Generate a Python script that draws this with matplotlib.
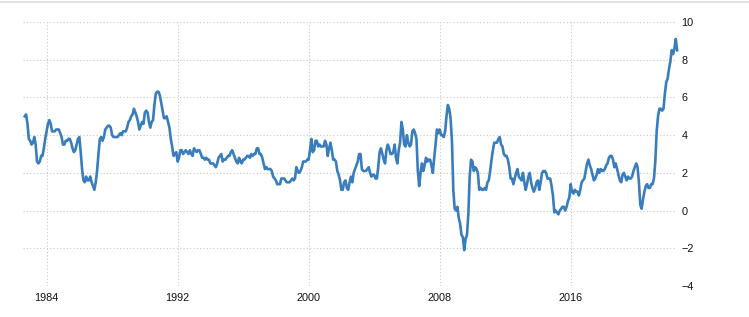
import numpy as np
import matplotlib.pyplot as plt
from matplotlib.lines import Line2D

# monthly inflation rate (%), Sep 1982 .. Jul 2022
start_year, start_month = 1982, 9
rate = [
    5.0, 5.1, 4.6, 3.8,
    3.7, 3.5, 3.6, 3.9, 3.5, 2.6, 2.5, 2.6, 2.9, 2.9, 3.3, 3.8,  # 1983
    4.2, 4.6, 4.8, 4.6, 4.2, 4.2, 4.2, 4.3, 4.3, 4.3, 4.1, 3.9,  # 1984
    3.5, 3.5, 3.7, 3.7, 3.8, 3.8, 3.6, 3.3, 3.1, 3.2, 3.5, 3.8,  # 1985
    3.9, 3.1, 2.2, 1.6, 1.5, 1.8, 1.6, 1.6, 1.8, 1.5, 1.3, 1.1,  # 1986
    1.5, 2.1, 3.0, 3.8, 3.9, 3.7, 3.9, 4.3, 4.4, 4.5, 4.5, 4.4,  # 1987
    4.0, 3.9, 3.9, 3.9, 3.9, 4.0, 4.1, 4.0, 4.2, 4.2, 4.2, 4.4,  # 1988
    4.7, 4.8, 5.0, 5.1, 5.4, 5.2, 5.0, 4.7, 4.3, 4.5, 4.7, 4.6,  # 1989
    5.2, 5.3, 5.2, 4.7, 4.4, 4.7, 4.8, 5.6, 6.2, 6.3, 6.3, 6.1,  # 1990
    5.7, 5.3, 4.9, 4.9, 5.0, 4.7, 4.4, 3.8, 3.4, 2.9, 3.0, 3.1,  # 1991
    2.6, 2.8, 3.2, 3.2, 3.0, 3.1, 3.2, 3.1, 3.0, 3.2, 3.0, 2.9,  # 1992
    3.3, 3.2, 3.1, 3.2, 3.2, 3.0, 2.8, 2.8, 2.7, 2.8, 2.7, 2.7,  # 1993
    2.5, 2.5, 2.5, 2.4, 2.3, 2.5, 2.8, 2.9, 3.0, 2.6, 2.7, 2.7,  # 1994
    2.8, 2.9, 2.9, 3.1, 3.2, 3.0, 2.8, 2.6, 2.5, 2.8, 2.6, 2.5,  # 1995
    2.7, 2.7, 2.8, 2.9, 2.9, 2.8, 3.0, 2.9, 3.0, 3.0, 3.3, 3.3,  # 1996
    3.0, 3.0, 2.8, 2.5, 2.2, 2.3, 2.2, 2.2, 2.2, 2.1, 1.8, 1.7,  # 1997
    1.6, 1.4, 1.4, 1.4, 1.7, 1.7, 1.7, 1.6, 1.5, 1.5, 1.5, 1.6,  # 1998
    1.7, 1.6, 1.7, 2.3, 2.1, 2.0, 2.1, 2.3, 2.6, 2.6, 2.6, 2.7,  # 1999
    2.7, 3.2, 3.8, 3.1, 3.2, 3.7, 3.7, 3.4, 3.5, 3.4, 3.4, 3.4,  # 2000
    3.7, 3.5, 2.9, 3.3, 3.6, 3.2, 2.7, 2.7, 2.6, 2.1, 1.9, 1.6,  # 2001
    1.1, 1.1, 1.5, 1.6, 1.2, 1.1, 1.5, 1.8, 1.5, 2.0, 2.2, 2.4,  # 2002
    2.6, 3.0, 3.0, 2.2, 2.1, 2.1, 2.1, 2.2, 2.3, 2.0, 1.8, 1.9,  # 2003
    1.9, 1.7, 1.7, 2.3, 3.1, 3.3, 3.0, 2.7, 2.5, 3.2, 3.5, 3.3,  # 2004
    3.0, 3.0, 3.1, 3.5, 2.8, 2.5, 3.2, 3.6, 4.7, 4.3, 3.5, 3.4,  # 2005
    4.0, 3.6, 3.4, 3.5, 4.2, 4.3, 4.1, 3.8, 2.1, 1.3, 2.0, 2.5,  # 2006
    2.1, 2.4, 2.8, 2.6, 2.7, 2.7, 2.4, 2.0, 2.8, 3.5, 4.3, 4.1,  # 2007
    4.3, 4.0, 4.0, 3.9, 4.2, 5.0, 5.6, 5.4, 4.9, 3.7, 1.1, 0.1,  # 2008
    0.0, 0.2, -0.4, -0.7, -1.3, -1.4, -2.1, -1.5, -1.3, -0.2, 1.8, 2.7,  # 2009
    2.6, 2.1, 2.3, 2.2, 2.0, 1.1, 1.2, 1.1, 1.1, 1.2, 1.1, 1.5,  # 2010
    1.6, 2.1, 2.7, 3.2, 3.6, 3.6, 3.6, 3.8, 3.9, 3.5, 3.4, 3.0,  # 2011
    2.9, 2.9, 2.7, 2.3, 1.7, 1.7, 1.4, 1.7, 2.0, 2.2, 1.8, 1.7,  # 2012
    1.6, 2.0, 1.5, 1.1, 1.4, 1.8, 2.0, 1.5, 1.2, 1.0, 1.2, 1.5,  # 2013
    1.6, 1.1, 1.5, 2.0, 2.1, 2.1, 2.0, 1.7, 1.7, 1.7, 1.3, 0.8,  # 2014
    -0.1, 0.0, -0.1, -0.2, 0.0, 0.1, 0.2, 0.2, 0.0, 0.2, 0.5, 0.7,  # 2015
    1.4, 1.0, 0.9, 1.1, 1.0, 1.0, 0.8, 1.1, 1.5, 1.6, 1.7, 2.1,  # 2016
    2.5, 2.7, 2.4, 2.2, 1.9, 1.6, 1.7, 1.9, 2.2, 2.0, 2.2, 2.1,  # 2017
    2.1, 2.2, 2.4, 2.5, 2.8, 2.9, 2.9, 2.7, 2.3, 2.5, 2.2, 1.9,  # 2018
    1.6, 1.5, 1.9, 2.0, 1.8, 1.6, 1.8, 1.7, 1.7, 1.8, 2.1, 2.3,  # 2019
    2.5, 2.3, 1.5, 0.3, 0.1, 0.6, 1.0, 1.3, 1.4, 1.2, 1.2, 1.4,  # 2020
    1.4, 1.7, 2.6, 4.2, 5.0, 5.4, 5.4, 5.3, 5.4, 6.2, 6.8, 7.0,  # 2021
    7.5, 7.9, 8.5, 8.3, 8.6, 9.1, 8.5,  # 2022
]
year_ticks = [1984, 1992, 2000, 2008, 2016]
y_ticks = [-4, -2, 0, 2, 4, 6, 8, 10]

t = start_year + (start_month - 1) / 12 + np.arange(len(rate)) / 12

plt.rcParams['font.family'] = ['Liberation Sans', 'DejaVu Sans']

fig = plt.figure(figsize=(7.49, 3.17), dpi=100)
ax = fig.add_axes([23 / 749, 1 - 286 / 317, (676 - 23) / 749, (286 - 22) / 317])

ax.plot(t, rate, color='#3a7dbc', lw=1.9, solid_joinstyle='round', clip_on=False)

ax.set_xlim(1982.56, 2022.43)
ax.set_ylim(-4, 10)
ax.set_xticks(year_ticks)
ax.set_yticks(y_ticks)
ax.yaxis.tick_right()
ax.tick_params(axis='both', length=0, labelsize=7.8, colors='#111111')
ax.tick_params(axis='y', pad=4)
ax.tick_params(axis='x', pad=5)
for lab in ax.get_yticklabels():
    lab.set_horizontalalignment('left')
ax.grid(True, color='#c8c8c8', linestyle=(0, (1, 2)), lw=0.8)
for s in ax.spines.values():
    s.set_visible(False)

# thin frame line at the top of the picture
fig.add_artist(Line2D([0, 1], [1 - 2 / 317, 1 - 2 / 317], color='#dddddd', lw=1.2))

fig.savefig('out.png', dpi=100)
